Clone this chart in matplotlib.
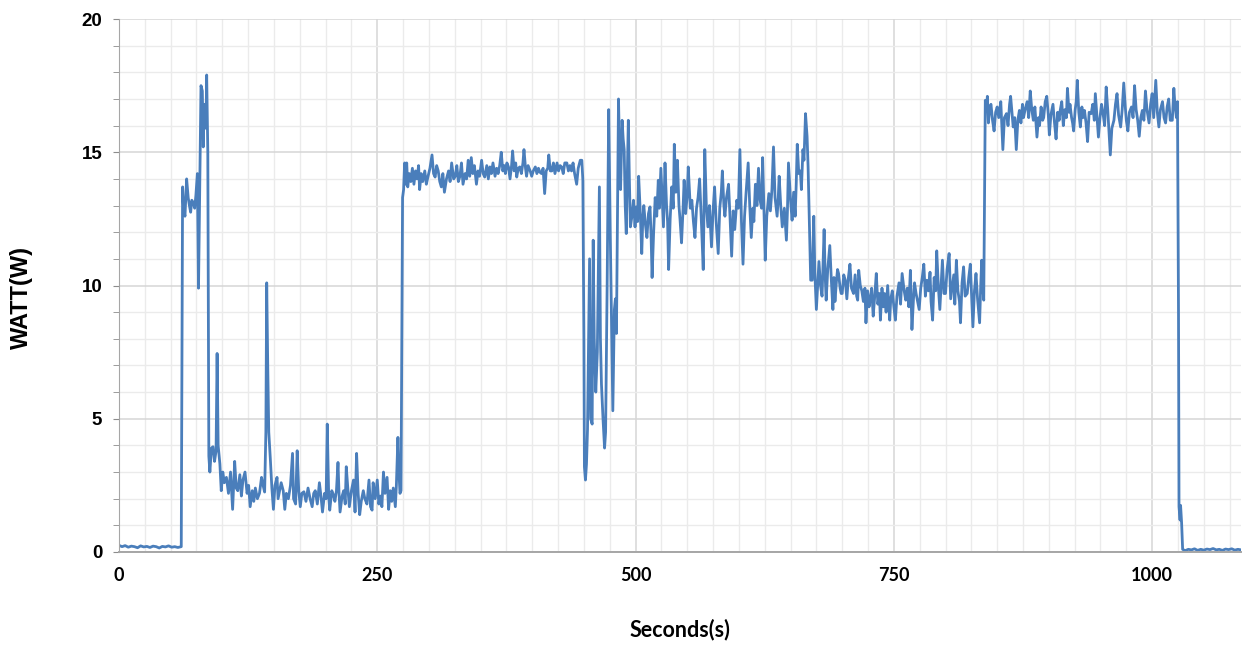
import matplotlib
matplotlib.use("Agg")
import matplotlib.pyplot as plt
from matplotlib.ticker import MultipleLocator
import numpy as np

# power trace, (seconds, watt) per phase
idle_start_t = [0, 3, 6, 9, 12, 15, 18, 21, 24, 27, 30, 33, 36, 39, 42, 45, 48, 51, 54, 57, 60.3]
idle_start_w = [0.25, 0.2, 0.24, 0.18, 0.22, 0.2, 0.16, 0.23, 0.19, 0.21, 0.17, 0.22, 0.2, 0.15,
                0.21, 0.19, 0.23, 0.18, 0.2, 0.17, 0.2]

burst_t = [61.6, 62.5, 63.9, 65.5, 67, 68.2, 69.4, 70.5, 72, 73.3, 74.5, 75.9, 77, 78.4, 79.4,
           80.7, 81.6, 82.5, 83.3, 84.2, 84.9, 86.0]
burst_w = [13.7, 12.9, 12.6, 14.0, 13.3, 13.0, 12.75, 13.2, 13.1, 12.9, 13.4, 14.2, 9.9, 14.2,
           17.5, 17.3, 15.2, 16.8, 16.4, 15.9, 17.9, 15.0]

low_t = [87, 88, 89.5, 91, 92.5, 94, 95, 96, 97.7, 99, 100.5, 102, 104, 106, 108, 110, 112,
         113.5, 115, 117, 118.5, 120, 122, 124, 125.5, 127, 129, 130.5, 132, 134, 136, 138,
         139.5, 141, 142.2, 143, 144, 145, 146.5, 148, 149.5, 151, 153, 154, 155.5, 157, 159,
         160.5, 162, 164, 166, 168, 169, 171, 172.5, 174, 175.5, 177, 179, 181, 183, 185, 187,
         188.5, 190, 192, 194, 195.5, 197, 199, 200.5, 201.6, 203, 204, 206, 207.5, 209, 210.5,
         212, 213, 214, 216, 217.5, 219, 220, 221.5, 223, 225, 227, 228.5, 230, 231.5, 233,
         234.5, 236.5, 238, 240, 242, 243.5, 245, 246, 248, 250, 251.5, 253, 254.5, 256, 257.5,
         259.5, 261, 262.5, 264, 265.5, 267.5, 268.5, 270, 271, 272, 273]
low_w = [3.6, 3.0, 3.9, 3.95, 3.4, 3.8, 7.45, 4.0, 3.3, 2.3, 3.0, 2.6, 2.8, 2.2, 3.0, 1.6, 3.4,
         2.4, 2.3, 2.9, 2.1, 2.7, 3.0, 2.2, 2.5, 1.7, 2.3, 1.9, 2.4, 2.0, 2.2, 2.8, 2.5, 2.25,
         4.5, 10.1, 7.0, 4.5, 3.5, 2.4, 1.6, 2.5, 2.8, 2.0, 2.3, 2.6, 2.3, 1.6, 2.2, 2.0, 2.5,
         3.7, 2.0, 1.8, 3.8, 2.3, 1.7, 2.2, 2.26, 1.9, 2.4, 2.0, 1.7, 2.2, 2.3, 1.8, 2.6, 2.1,
         1.5, 2.2, 2.0, 4.8, 2.1, 1.57, 2.3, 2.15, 1.9, 2.3, 3.36, 2.2, 1.5, 2.1, 2.3, 1.8, 3.2,
         2.4, 1.7, 2.3, 2.7, 1.5, 3.7, 2.2, 1.4, 1.9, 2.3, 2.0, 1.8, 2.7, 1.7, 1.57, 2.6, 2.0,
         2.7, 1.8, 2.1, 1.7, 3.0, 2.2, 2.8, 1.6, 2.3, 1.9, 2.4, 1.7, 2.5, 4.3, 3.0, 2.2, 2.3]

plateau_t = [274.5, 275.5, 276.5, 277.5, 278.5, 279.5, 281, 282.5, 284, 285.5, 287, 288.5, 290,
             291, 292.5, 294, 296, 297.5, 299, 301, 303, 304.5, 306, 307.5, 309, 310.5, 312,
             313.5, 315, 317, 319, 320.5, 322, 324, 325.5, 327, 328.5, 330, 331.5, 333, 335,
             336.5, 338, 339.5, 341, 342.5, 344, 346, 347.5, 349, 351, 352.5, 354, 356, 357.5,
             359, 360.5, 362, 364, 365.5, 367, 368.5, 370, 371.5, 373, 374, 375.5, 377, 378.5,
             380, 381, 382.5, 384, 385, 386.5, 388, 389.5, 391, 392, 393.5, 394.5, 396, 398,
             399.5, 401, 403, 404.5, 406, 407.5, 409, 410.5, 412, 413.5, 415, 416, 417.5, 419,
             420.5, 422, 424, 425.5, 427, 428.5, 430, 431.5, 433.5, 435, 436.5, 438, 439.5, 441,
             443, 444.5, 446.5, 448, 449]
plateau_w = [13.3, 13.6, 14.6, 13.8, 14.6, 13.7, 14.2, 13.9, 14.4, 13.8, 14.3, 14.0, 14.5, 13.6,
             14.2, 13.9, 14.3, 13.8, 14.07, 14.4, 14.9, 14.2, 14.07, 14.5, 14.3, 13.9, 13.7, 14.2,
             13.5, 14.0, 14.3, 13.9, 14.6, 14.0, 14.1, 14.5, 13.9, 14.1, 14.6, 13.8, 14.2, 14.0,
             14.7, 14.1, 14.8, 14.2, 14.5, 13.8, 14.3, 14.1, 14.7, 14.2, 14.07, 14.5, 14.0, 14.45,
             14.2, 14.6, 14.1, 14.4, 14.2, 14.5, 15.0, 14.3, 14.5, 14.2, 14.6, 14.45, 14.0, 14.5,
             15.05, 14.3, 14.6, 14.07, 14.4, 14.45, 14.2, 14.6, 15.1, 14.4, 14.1, 14.5, 14.3, 14.1,
             14.3, 14.45, 14.2, 14.4, 14.25, 14.2, 14.4, 13.45, 14.3, 14.4, 14.9, 14.3, 14.3, 14.6,
             14.2, 14.6, 14.3, 14.5, 14.45, 14.2, 14.6, 14.6, 14.3, 14.5, 14.3, 14.6, 14.2, 13.8,
             14.4, 14.7, 14.7, 13.95]

swing_t = [450, 450.5, 451.5, 452.5, 453.5, 455.5, 456.5, 458, 459, 460, 461.5, 463, 465, 466,
           467, 468.5, 470, 471, 472.5, 474, 475.5, 477, 478, 479.5, 480.5, 481.5, 482.5, 483.5,
           484.5, 485.5, 487, 488, 489, 490, 491, 492, 493, 494, 495, 496.5]
swing_w = [8.0, 3.2, 2.7, 3.3, 4.6, 11.0, 5.0, 4.8, 11.7, 8.0, 6.0, 7.5, 13.7, 8.0, 6.3, 5.0,
           3.9, 4.5, 10.0, 16.6, 12.0, 8.0, 5.3, 9.1, 9.5, 8.2, 12.5, 17.0, 15.0, 13.6, 16.2,
           15.5, 15.1, 13.0, 11.95, 14.0, 16.2, 14.0, 12.2, 12.6]

mixed_t = [498, 499.5, 500.5, 502, 503, 504.5, 506, 507, 508, 509.5, 511, 512.5, 514, 515, 516,
           517.5, 519, 520.5, 522, 523, 524.5, 526, 527, 528.5, 530, 531, 532, 533.5, 535,
           536.5, 537.5, 539, 540.5, 542, 543, 544.5, 546, 547, 548.5, 550, 551, 553, 554.5,
           556, 557.5, 559, 560.5, 562, 563.5, 565.5, 567, 568.5, 570, 571.5, 573.5, 575, 576.5,
           578, 580, 581.5, 583, 584, 585.5, 586.5, 588, 590, 591.5, 593, 594.5, 596, 598,
           599.5, 601, 602.5, 604, 605.5, 607, 609, 610.5, 612, 613.5, 614.5, 616, 617.5, 619,
           620.5, 622, 623, 624.5, 625.5, 627, 629, 630.5, 632, 633.5, 635, 637, 638, 639,
           640.5, 642, 644, 646, 647, 648, 650, 651.5, 653, 654.5, 655.5, 656.5, 658, 659.5,
           660.5, 662, 663, 664.5, 666, 667]
mixed_w = [13.2, 12.2, 12.95, 12.4, 14.1, 12.8, 11.2, 12.5, 13.0, 12.3, 11.8, 12.7, 12.95, 11.9,
           10.3, 12.0, 13.3, 12.6, 13.95, 12.9, 14.4, 13.1, 12.2, 14.6, 13.0, 12.4, 10.6, 12.5,
           13.7, 12.9, 15.3, 13.5, 14.7, 13.0, 12.5, 11.6, 12.9, 13.95, 12.7, 13.4, 14.45, 12.9,
           13.2, 12.4, 11.8, 12.9, 13.3, 14.0, 12.6, 10.6, 15.1, 13.0, 12.2, 13.0, 11.45, 12.8,
           13.7, 12.4, 11.2, 12.9, 13.5, 14.3, 13.0, 12.6, 13.3, 13.8, 12.5, 11.1, 12.8, 12.1,
           13.2, 12.9, 15.1, 12.4, 10.8, 12.6, 13.5, 14.6, 13.0, 11.8, 12.9, 12.4, 13.8, 13.0,
           14.4, 13.2, 12.9, 14.8, 12.5, 10.95, 12.6, 13.45, 12.8, 13.6, 15.2, 13.3, 12.6, 13.2,
           14.1, 13.0, 12.2, 12.9, 11.7, 12.8, 14.6, 13.2, 12.45, 13.5, 12.6, 13.8, 15.3, 14.2,
           14.3, 13.6, 15.1, 14.7, 16.45, 15.6, 14.45]

mid_t = [668.5, 669.5, 671, 672.5, 673.5, 675, 676.5, 677.5, 679, 680.5, 682.5, 683.5, 684.5,
         686, 688, 689.5, 691, 692, 693, 694.5, 695.5, 696.5, 698, 699, 700, 701.5, 703, 704.5,
         706, 707.5, 709, 711, 712.5, 714, 715, 716, 717.5, 719, 720.5, 722, 723, 724.5, 726,
         727, 728.5, 730, 731.5, 733, 734.5, 736, 737, 738.5, 740, 741, 742.5, 744, 746, 747,
         748.5, 750, 751.5, 753, 755, 756.5, 758, 760, 761.5, 763, 764.5, 766, 767.5, 769, 770,
         771.5, 773, 774.5, 776, 777.5, 779, 780.5, 782, 783.5, 785, 786, 787.5, 789, 790.5,
         791.5, 793, 794.5, 796, 797, 798.5, 800, 801.5, 803.5, 805, 806.5, 808, 809, 810.5,
         812, 813.5, 814.5, 816, 817.5, 819, 821, 822.5, 824, 825.5, 826.5, 828, 829.5, 831,
         833, 834, 835, 836, 837]
mid_w = [12.0, 10.2, 10.2, 12.6, 10.5, 9.1, 10.2, 10.9, 10.0, 9.6, 12.1, 10.4, 9.45, 10.6, 11.5,
         10.2, 9.1, 10.3, 9.4, 10.2, 10.6, 10.45, 9.9, 9.7, 9.7, 10.4, 10.2, 9.5, 10.3, 10.8,
         9.9, 9.7, 10.4, 9.6, 9.45, 10.57, 10.0, 9.8, 9.4, 9.9, 8.6, 9.8, 9.2, 9.45, 9.9, 8.85,
         9.6, 10.45, 9.3, 9.7, 8.7, 9.9, 9.2, 9.7, 9.0, 10.0, 8.7, 9.5, 9.8, 9.2, 8.7, 9.6, 10.1,
         9.3, 10.45, 9.8, 9.45, 9.9, 9.2, 10.57, 8.35, 9.5, 10.1, 9.7, 9.4, 9.1, 9.9, 10.3, 10.8,
         9.6, 10.2, 9.8, 10.5, 9.4, 8.7, 10.3, 9.8, 11.3, 10.0, 9.1, 10.2, 10.95, 9.7, 9.7, 10.6,
         11.2, 9.5, 9.95, 10.4, 9.3, 10.95, 9.8, 9.4, 8.6, 10.1, 10.7, 9.6, 9.7, 10.3, 10.8, 9.4,
         8.45, 9.8, 10.45, 9.5, 8.6, 9.9, 10.95, 10.0, 9.45]

high_t = [838.5, 839.5, 840.5, 841.5, 843, 844, 845.5, 847, 848.5, 850, 851.5, 853.5, 854.5,
          855.5, 857, 859, 860.5, 862, 863, 864.5, 865.5, 867, 868.5, 870, 871.5, 873, 874.5,
          875.5, 877, 879, 880.5, 882, 883.5, 885, 886.5, 888.5, 890, 891, 892.5, 894, 895,
          896.5, 898, 899.5, 900.5, 902, 904, 905.5, 907, 908.5, 910, 911, 912.5, 914, 915.5,
          917, 918, 919.5, 920.5, 922, 923, 924, 925.5, 926.5, 927.5, 929, 930.5, 932, 933,
          934.5, 936, 937.5, 939, 941, 942.5, 944, 945, 946.5, 948, 949.5, 951, 952.5, 954,
          955.5, 957, 958.5, 959.5, 961, 963, 964.5, 966, 967.5, 969.5, 971, 972.5, 974, 975,
          976.5, 978, 980, 981.5, 983, 984.5, 986, 987.5, 989, 990.5, 992, 993.5, 995, 997,
          998.5, 1000, 1001.5, 1003.5, 1005, 1006.5, 1008, 1010, 1011.5, 1013, 1014.5, 1016,
          1017.5, 1019.5, 1021, 1022, 1023.5, 1024.5]
high_w = [16.95, 16.6, 17.1, 16.1, 16.7, 16.8, 16.2, 15.8, 16.5, 16.7, 16.3, 16.9, 16.0, 15.1,
          16.3, 16.45, 16.0, 16.8, 17.1, 16.4, 15.95, 16.3, 15.1, 16.2, 16.57, 16.1, 16.8, 16.3,
          16.6, 16.9, 16.3, 17.3, 16.6, 16.2, 16.7, 15.57, 16.3, 16.0, 16.7, 16.2, 16.3, 16.9,
          17.1, 16.4, 15.65, 16.4, 16.8, 16.1, 15.5, 16.5, 16.2, 16.57, 16.9, 16.0, 16.6, 16.3,
          17.4, 16.5, 16.8, 16.3, 16.1, 15.8, 16.6, 16.9, 17.7, 16.5, 15.95, 16.7, 16.3, 16.57,
          16.1, 15.4, 16.5, 16.45, 16.8, 16.2, 17.2, 16.4, 15.57, 16.3, 16.8, 16.45, 16.0, 17.45,
          16.6, 15.6, 14.9, 15.9, 16.2, 16.8, 17.2, 16.4, 15.95, 16.6, 17.6, 16.7, 16.2, 15.8,
          16.5, 16.7, 16.3, 17.5, 16.6, 16.2, 15.6, 16.3, 16.57, 16.2, 17.3, 16.6, 16.1, 16.8,
          17.2, 16.3, 17.7, 16.5, 15.95, 16.6, 16.9, 16.3, 16.1, 16.7, 17.0, 16.2, 16.2, 17.4,
          16.8, 16.3, 16.9]

idle_end_t = [1025.5, 1026, 1027, 1027.5, 1028.5, 1029.5, 1032, 1035, 1038, 1041, 1044, 1047,
              1050, 1053, 1056, 1059, 1062, 1065, 1068, 1071, 1074, 1077, 1080, 1083, 1086]
idle_end_w = [9.0, 1.7, 1.2, 1.75, 1.1, 0.1, 0.05, 0.1, 0.08, 0.12, 0.06, 0.1, 0.07, 0.11, 0.09,
              0.13, 0.08, 0.1, 0.06, 0.11, 0.09, 0.12, 0.07, 0.1, 0.08]

x_tick_values = [0, 250, 500, 750, 1000]
y_tick_values = [0, 5, 10, 15, 20]

seconds = np.concatenate([idle_start_t, burst_t, low_t, plateau_t, swing_t,
                          mixed_t, mid_t, high_t, idle_end_t])
watts = np.concatenate([idle_start_w, burst_w, low_w, plateau_w, swing_w,
                        mixed_w, mid_w, high_w, idle_end_w])

fig = plt.figure(figsize=(12.43, 6.45), dpi=100)
ax = fig.add_axes([0.0957, 0.1442, 0.9027, 0.8263])

ax.plot(seconds, watts, color="#4a7ebb", linewidth=2.0, solid_joinstyle="round")

ax.set_xlim(0, 1086)
ax.set_ylim(0, 20)
ax.set_xticks(x_tick_values)
ax.set_yticks(y_tick_values)
ax.xaxis.set_minor_locator(MultipleLocator(25))
ax.yaxis.set_minor_locator(MultipleLocator(1))

ax.grid(True, which="major", color="#d6d6d6", linewidth=1.1)
ax.grid(True, which="minor", color="#ebebeb", linewidth=1.0)
ax.set_axisbelow(True)

for side in ["top", "right"]:
    ax.spines[side].set_visible(False)
ax.spines["left"].set_color("#a6a6a6")
ax.spines["bottom"].set_color("#a6a6a6")
ax.spines["bottom"].set_linewidth(1.4)

ax.tick_params(axis="x", which="both", length=0, pad=11)
ax.tick_params(axis="y", which="both", length=4, color="#8c8c8c", pad=8)

for lbl in ax.get_xticklabels():
    lbl.set_fontfamily("Lato")
    lbl.set_fontweight("bold")
    lbl.set_fontsize(13)
for lbl in ax.get_yticklabels():
    lbl.set_fontfamily("Liberation Sans")
    lbl.set_fontweight("bold")
    lbl.set_fontsize(13.5)

ax.set_xlabel("Seconds(s)", fontfamily="Lato", fontweight="bold", fontsize=15.5)
ax.set_ylabel("WATT(W)", fontfamily="Liberation Sans", fontweight="bold", fontsize=17)
ax.xaxis.set_label_coords(0.5, -0.126)
ax.yaxis.set_label_coords(-0.077, 0.478)

fig.savefig("out.png", dpi=100)
